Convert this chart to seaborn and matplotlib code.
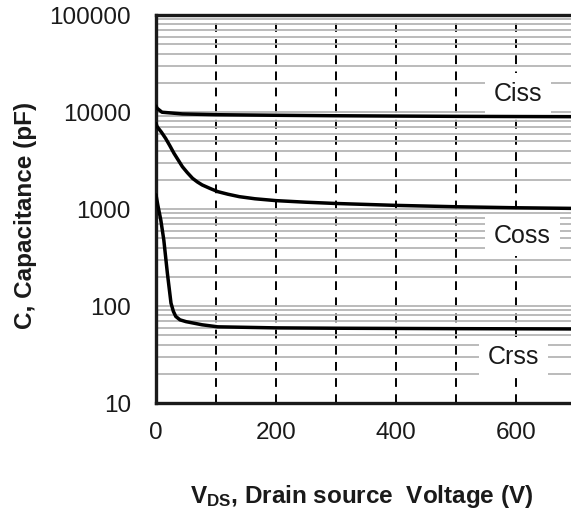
import matplotlib
matplotlib.use("Agg")
import matplotlib.pyplot as plt
import matplotlib.ticker as mticker
import pandas as pd
import seaborn as sns

# Capacitance vs drain-source voltage
vds_ciss = [0, 2, 10, 44, 100, 200, 300, 400, 500, 600, 692]
ciss = [11500, 10900, 9950, 9550, 9380, 9250, 9150, 9080, 9020, 8980, 8950]

vds_coss = [0, 2, 9, 16, 23, 30, 37, 44, 52, 61, 69, 77, 90, 103, 120, 139, 165,
            200, 250, 300, 400, 500, 600, 692]
coss = [7600, 7050, 6200, 5350, 4500, 3750, 3200, 2730, 2380, 2070, 1900, 1770,
        1630, 1510, 1420, 1340, 1275, 1220, 1175, 1140, 1090, 1055, 1030, 1015]

vds_crss = [0, 3, 8, 13, 19, 25, 29, 33, 40, 50, 77, 103, 200, 300, 400, 500, 600, 692]
crss = [1400, 1100, 770, 480, 217, 107, 88, 78, 72, 69, 64, 61, 59.5, 59, 58.7,
        58.4, 58.2, 58]

x_ticks = [0, 200, 400, 600]
y_ticks = [10, 100, 1000, 10000, 100000]

# Curve name tags: (text, x, y)
tags = [("Ciss", 604, 15500), ("Coss", 611, 530), ("Crss", 596, 29.5)]

sns.set_style("white")
plt.rcParams["font.family"] = ["Liberation Sans", "DejaVu Sans"]
plt.rcParams["mathtext.fontset"] = "custom"
plt.rcParams["mathtext.rm"] = "Liberation Sans:bold"
plt.rcParams["mathtext.bf"] = "Liberation Sans:bold"
plt.rcParams["mathtext.it"] = "Liberation Sans:bold"

fig = plt.figure(figsize=(5.71, 5.11), dpi=100)
ax = fig.add_axes([156 / 571, 1 - 403 / 511, 415 / 571, 388 / 511])

series = pd.concat([
    pd.DataFrame({"vds": vds_ciss, "cap": ciss, "kind": "Ciss"}),
    pd.DataFrame({"vds": vds_coss, "cap": coss, "kind": "Coss"}),
    pd.DataFrame({"vds": vds_crss, "cap": crss, "kind": "Crss"}),
])
for kind, df in series.groupby("kind"):
    sns.lineplot(data=df, x="vds", y="cap", color="black", lw=2.5, ax=ax,
                 zorder=4, legend=False)

ax.set_yscale("log")
ax.set_ylim(10, 100000)
ax.set_xlim(0, 692)

ax.yaxis.set_major_locator(mticker.FixedLocator(y_ticks))
ax.yaxis.set_major_formatter(mticker.FuncFormatter(lambda v, p: f"{int(round(v))}"))
ax.yaxis.set_minor_locator(mticker.LogLocator(base=10, subs=range(2, 10)))
ax.yaxis.set_minor_formatter(mticker.NullFormatter())
ax.xaxis.set_major_locator(mticker.FixedLocator(x_ticks))
ax.xaxis.set_minor_locator(mticker.MultipleLocator(100))

ax.yaxis.grid(True, which="both", color="#b5b5b5", lw=1.3, zorder=1)
ax.xaxis.grid(True, which="both", color="black", lw=1.4,
              linestyle=(0, (4.5, 3.8)), zorder=2)
ax.set_axisbelow(True)

ax.tick_params(axis="both", which="both", length=0, labelsize=17.5, colors="#1a1a1a")
ax.tick_params(axis="y", pad=18)
ax.tick_params(axis="x", pad=14)

for side in ["top", "left", "bottom"]:
    ax.spines[side].set_linewidth(2.4)
    ax.spines[side].set_color("#1a1a1a")
ax.spines["right"].set_visible(False)

for text, x, y in tags:
    ax.text(x, y, text, fontsize=18, ha="center", va="center", color="#1a1a1a",
            zorder=5, bbox=dict(boxstyle="square,pad=0.35", facecolor="white",
                                edgecolor="none"))

ax.set_xlabel(r"V$_{\mathrm{DS}}$, Drain source  Voltage (V)", fontsize=17.5,
              fontweight="bold", color="#1a1a1a")
ax.set_ylabel("C, Capacitance (pF)", fontsize=17.5, fontweight="bold",
              color="#1a1a1a")
ax.xaxis.set_label_coords(0.496, -0.205)
ax.yaxis.set_label_coords(-0.287, 0.4845)

fig.savefig("out.png", dpi=100)
